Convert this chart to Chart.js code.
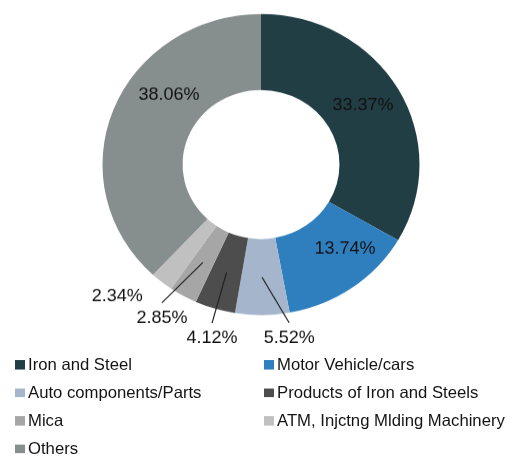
<!DOCTYPE html>
<html>
<head>
<meta charset="utf-8">
<script src="https://cdn.jsdelivr.net/npm/chart.js@4/dist/chart.umd.min.js"></script>
<style>
  html, body { margin: 0; padding: 0; background: #fff; overflow: hidden; }
  #wrap { position: relative; width: 507px; height: 481px; transform: scaleY(0.95); transform-origin: 0 0; }
  #chart { position: absolute; left: 0; top: 0; }
  .item { position: absolute; height: 20px; line-height: 20px; white-space: nowrap;
          font-family: "Liberation Sans", Arial, sans-serif; font-size: 16.7px; color: #141414; }
  .item span.box { position: absolute; left: -13px; top: 5px; width: 9.5px; height: 9.5px; }
</style>
</head>
<body>
<div id="wrap">
  <canvas id="chart" width="507" height="481"></canvas>
  <div id="legend"></div>
</div>
<script>
var categories = ['Iron and Steel', 'Motor Vehicle/cars', 'Auto components/Parts', 'Products of Iron and Steels',
                  'Mica', 'ATM, Injctng Mlding Machinery', 'Others'];
var values = [33.37, 13.74, 5.52, 4.12, 2.85, 2.34, 38.06];
var colors = ['#223E45', '#2F7FBF', '#A4B5CC', '#4D4D4D', '#A6A6A6', '#C0C0C0', '#878E8E'];

// label placement: radius as fraction of outer radius, angle shift from slice middle (deg)
var labelRadius = [0.755, 0.77, 1.165, 1.195, 1.195, 1.26, 0.742];
var labelShift = [-1.6, -8.3, -8.3, -1.9, 2.1, 7.3, 17];
var labelLeader = [false, false, true, true, true, false, false];

var pctLabels = {
    id: 'pctLabels',
    afterDatasetsDraw: function(chart) {
        var ctx = chart.ctx;
        var meta = chart.getDatasetMeta(0);
        ctx.save();
        ctx.font = '18px "Liberation Sans", Arial, sans-serif';
        ctx.fillStyle = '#111';
        ctx.strokeStyle = '#222';
        ctx.lineWidth = 1.2;
        ctx.textAlign = 'center';
        ctx.textBaseline = 'middle';
        meta.data.forEach(function(arc, i) {
            var p = arc.getProps(['x', 'y', 'startAngle', 'endAngle', 'innerRadius', 'outerRadius']);
            var mid = (p.startAngle + p.endAngle) / 2;
            var ang = mid + labelShift[i] * Math.PI / 180;
            var r = labelRadius[i] * p.outerRadius;
            var lx = p.x + Math.cos(ang) * r;
            var ly = p.y + Math.sin(ang) * r;
            if (labelLeader[i]) {
                var rm = (p.innerRadius + p.outerRadius) / 2;
                ctx.beginPath();
                ctx.moveTo(p.x + Math.cos(mid) * rm, p.y + Math.sin(mid) * rm);
                ctx.lineTo(lx, ly - 16);
                ctx.stroke();
            }
            ctx.fillText(values[i].toFixed(2) + '%', lx, ly);
        });
        ctx.restore();
    }
};

new Chart(document.getElementById('chart').getContext('2d'), {
    type: 'doughnut',
    data: {
        labels: categories,
        datasets: [{
            data: values,
            backgroundColor: colors,
            borderWidth: 0,
            hoverOffset: 0
        }]
    },
    options: {
        responsive: false,
        animation: false,
        cutout: '49.5%',
        layout: { padding: { left: 102.5, right: 87.5, top: 14.7, bottom: 149.3 } },
        plugins: {
            legend: { display: false },
            tooltip: { enabled: false }
        }
    },
    plugins: [pctLabels]
});

// legend, two columns
var legend = document.getElementById('legend');
categories.forEach(function(name, i) {
    var div = document.createElement('div');
    div.className = 'item';
    div.style.left = (i % 2 === 0 ? 28 : 277) + 'px';
    div.style.top = (374 + Math.floor(i / 2) * 29.5) + 'px';
    var box = document.createElement('span');
    box.className = 'box';
    box.style.background = colors[i];
    div.appendChild(box);
    div.appendChild(document.createTextNode(name));
    legend.appendChild(div);
});
</script>
</body>
</html>
